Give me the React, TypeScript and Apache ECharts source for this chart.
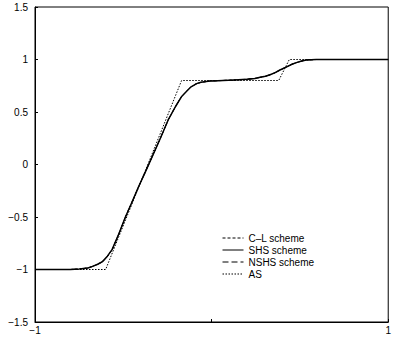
import React, { useEffect, useRef } from "react";
import * as echarts from "echarts";

const xs = [-1, -0.8, -0.75, -0.7, -0.674, -0.645, -0.618, -0.59, -0.563, -0.525, -0.488, -0.45, -0.413, -0.375, -0.339, -0.29, -0.246, -0.205, -0.171, -0.14, -0.116, -0.085, -0.06, -0.01, 0.034, 0.127, 0.2, 0.245, 0.275, 0.305, 0.331, 0.36, 0.387, 0.425, 0.455, 0.48, 0.51, 0.536, 0.592, 1];
const clScheme = [-1, -1, -0.995, -0.985, -0.97, -0.95, -0.926, -0.875, -0.81, -0.66, -0.5, -0.355, -0.21, -0.07, 0.065, 0.25, 0.424, 0.55, 0.646, 0.7, 0.741, 0.77, 0.783, 0.795, 0.798, 0.805, 0.812, 0.82, 0.83, 0.84, 0.855, 0.875, 0.9, 0.93, 0.955, 0.97, 0.985, 0.995, 1.0, 1];
const shsScheme = [-1, -1, -0.995, -0.985, -0.97, -0.95, -0.925, -0.873, -0.808, -0.66, -0.5, -0.355, -0.21, -0.07, 0.065, 0.25, 0.424, 0.55, 0.645, 0.7, 0.74, 0.77, 0.783, 0.795, 0.798, 0.805, 0.812, 0.82, 0.83, 0.84, 0.855, 0.875, 0.9, 0.93, 0.955, 0.97, 0.985, 0.995, 1.0, 1];
const nshsScheme = [-1, -1, -0.995, -0.985, -0.97, -0.95, -0.926, -0.876, -0.81, -0.661, -0.5, -0.355, -0.21, -0.07, 0.065, 0.25, 0.424, 0.551, 0.646, 0.7, 0.741, 0.77, 0.783, 0.795, 0.798, 0.805, 0.812, 0.82, 0.83, 0.84, 0.855, 0.875, 0.9, 0.93, 0.955, 0.97, 0.985, 0.995, 1.0, 1];
const asX = [-1, -0.6, -0.17, 0.38, 0.44, 1];
const asY = [-1, -1, 0.8, 0.8, 1, 1];
const legendNames = ["C\u2013L scheme", "SHS scheme", "NSHS scheme", "AS"];

const fmt = (v: number) => (v === 0 ? "0" : String(v).replace("-", "\u2212"));

export default function App() {
  const ref = useRef<HTMLDivElement>(null);
  useEffect(() => {
    const chart = echarts.init(ref.current!, null, { renderer: "svg" });
    const pair = (ys: number[]) => xs.map((x, i) => [x, ys[i]]);
    const font = "Liberation Sans, Arial, sans-serif";
    const lineSeries = (name: string, data: number[][], lineStyle: any) => ({
      name, type: "line", data, showSymbol: false, symbol: "none", color: "#000",
      itemStyle: { color: "#000" }, lineStyle,
    });
    chart.setOption({
      animation: false,
      backgroundColor: "#fff",
      grid: { left: 35, right: 1, top: 7, bottom: 17, show: true, borderColor: "#000", borderWidth: 1 },
      xAxis: {
        type: "value", min: -1, max: 1, interval: 1,
        axisLine: { onZero: false, lineStyle: { color: "#000", width: 1 } },
        axisTick: { inside: true, length: 3, lineStyle: { color: "#000" } },
        splitLine: { show: false },
        axisLabel: {
          color: "#000", fontSize: 10, fontFamily: font, margin: 3,
          formatter: (v: number) => (v === 0 ? "" : fmt(v)),
        },
      },
      yAxis: {
        type: "value", min: -1.5, max: 1.5, interval: 0.5,
        axisLine: { onZero: false, lineStyle: { color: "#000", width: 1 } },
        axisTick: { inside: true, length: 3, lineStyle: { color: "#000" } },
        splitLine: { show: false },
        axisLabel: { color: "#000", fontSize: 10, fontFamily: font, margin: 7, formatter: fmt },
      },
      legend: {
        orient: "vertical", left: 217, top: 228, itemWidth: 21, itemHeight: 10, itemGap: 2,
        itemStyle: { opacity: 0 },
        lineStyle: { width: 1 },
        textStyle: { color: "#000", fontSize: 10, fontFamily: font },
        data: legendNames.map((n) => ({ name: n })),
      },
      series: [
        lineSeries(legendNames[0], pair(clScheme), { color: "#000", width: 1, type: [3, 2] }),
        lineSeries(legendNames[1], pair(shsScheme), { color: "#000", width: 1.5, type: "solid" }),
        lineSeries(legendNames[2], pair(nshsScheme), { color: "#000", width: 1, type: [6, 3] }),
        lineSeries(legendNames[3], asX.map((x, i) => [x, asY[i]]), { color: "#000", width: 1, type: [1.5, 1.5] }),
      ],
    });
    return () => chart.dispose();
  }, []);
  return <div ref={ref} style={{ width: 394, height: 339, position: "absolute", left: 0, top: 0 }} />;
}
